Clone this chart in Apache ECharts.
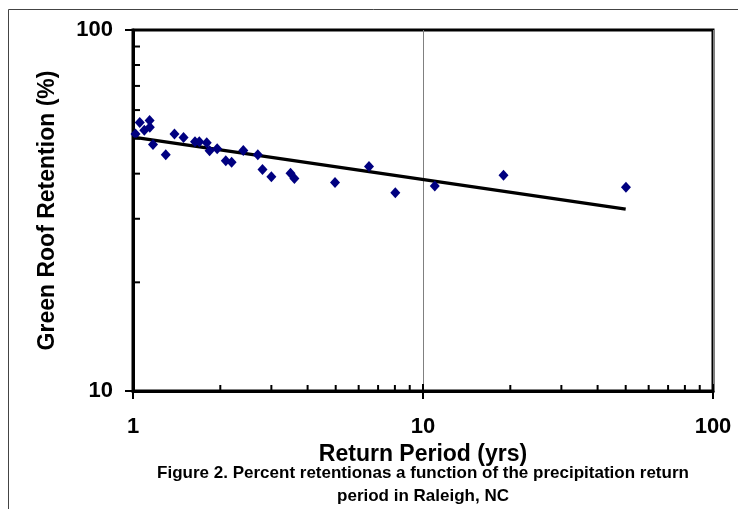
<!DOCTYPE html>
<html>
<head>
<meta charset="utf-8">
<script src="https://cdn.jsdelivr.net/npm/echarts@6/dist/echarts.min.js"></script>
<style>html,body{margin:0;padding:0;background:#fff;}#c{width:738px;height:509px;}</style>
</head>
<body>
<div id="c"></div>
<script>
// Data
const returnPeriod = [1.02, 1.055, 1.094, 1.141, 1.143, 1.172, 1.297, 1.39, 1.494, 1.636, 1.693, 1.796, 1.837, 1.951, 2.089, 2.188, 2.401, 2.694, 2.796, 3.0, 3.493, 3.602, 4.973, 6.513, 8.026, 10.98, 18.95, 50.1];
const retention    = [51.5, 55.4, 52.8, 56.1, 53.8, 48.2, 45.1, 51.5, 50.4, 49.0, 49.0, 48.7, 46.3, 46.9, 43.4, 43.0, 46.4, 45.1, 41.1, 39.2, 40.1, 38.8, 37.8, 41.9, 35.4, 37.0, 39.6, 36.7];
const trendX = [1, 50];
const trendY = [50.5, 31.9];
const xMajorTicks = [1, 10, 100];
const xMinorTicks = [2, 3, 4, 5, 6, 7, 8, 9, 20, 30, 40, 50, 60, 70, 80, 90];
const yMajorTicks = [10, 100];
const yMinorTicks = [20, 30, 40, 50, 60, 70, 80, 90];
const xTitle = 'Return Period (yrs)';
const yTitle = 'Green Roof Retention (%)';
const caption = ['Figure 2. Percent retentionas a function of the precipitation return', 'period in Raleigh, NC'];

const FONT = '"Liberation Sans", Arial, sans-serif';
const chart = echarts.init(document.getElementById('c'), null, {renderer: 'canvas'});

const scatterData = returnPeriod.map((x, i) => [x, retention[i]]);
const trendData = trendX.map((x, i) => [x, trendY[i]]);

// tick marks: [xValue, yValue, isYAxis, isMajor]
const tickData = [];
xMajorTicks.forEach(v => tickData.push([v, 10, 0, 1]));
xMinorTicks.forEach(v => tickData.push([v, 10, 0, 0]));
yMajorTicks.forEach(v => tickData.push([1, v, 1, 1]));
yMinorTicks.forEach(v => tickData.push([1, v, 1, 0]));

function renderTick(params, api) {
  const isY = api.value(2) === 1;
  const major = api.value(3) === 1;
  const p = api.coord([api.value(0), api.value(1)]);
  let x1, y1, x2, y2;
  if (!isY) {
    const base = api.coord([1, 10])[1];
    x1 = x2 = p[0];
    if (major) { y1 = base - 7; y2 = base + 8; } else { y1 = base - 6; y2 = base; }
  } else {
    const base = api.coord([1, 10])[0];
    y1 = y2 = p[1];
    if (major) { x1 = base - 8; x2 = base + 7; } else { x1 = base; x2 = base + 7; }
  }
  return {type: 'line', shape: {x1, y1, x2, y2}, style: {stroke: '#000', lineWidth: 2}};
}

chart.setOption({
  backgroundColor: '#fff',
  animation: false,
  grid: {left: 133, right: 25, top: 30, bottom: 118, show: true, borderColor: '#000', borderWidth: 3, backgroundColor: 'transparent'},
  xAxis: {
    type: 'log', logBase: 10, min: 1, max: 100,
    name: xTitle, nameLocation: 'middle', nameGap: 40,
    nameTextStyle: {fontFamily: FONT, fontWeight: 'bold', fontSize: 23, color: '#000'},
    axisLine: {show: true, lineStyle: {color: '#000', width: 3}},
    axisTick: {show: false},
    minorTick: {show: false},
    axisLabel: {fontFamily: FONT, fontWeight: 'bold', fontSize: 22, color: '#000', margin: 25},
    splitLine: {show: true, lineStyle: {color: '#808080', width: 1}},
    minorSplitLine: {show: false}
  },
  yAxis: {
    type: 'log', logBase: 10, min: 10, max: 100,
    name: yTitle, nameLocation: 'middle', nameGap: 74, nameRotate: 90,
    nameTextStyle: {fontFamily: FONT, fontWeight: 'bold', fontSize: 23, color: '#000'},
    axisLine: {show: true, lineStyle: {color: '#000', width: 3}},
    axisTick: {show: false},
    minorTick: {show: false},
    axisLabel: {fontFamily: FONT, fontWeight: 'bold', fontSize: 22, color: '#000', margin: 20},
    splitLine: {show: false}
  },
  graphic: [
    {type: 'rect', silent: true, shape: {x: 8.5, y: 9.5, width: 800, height: 600}, style: {fill: 'none', stroke: '#444', lineWidth: 1}, z: -1},
    {type: 'text', x: 423, y: 473, style: {text: caption[0], fontFamily: FONT, fontWeight: 'bold', fontSize: 17, fill: '#000', align: 'center', verticalAlign: 'middle'}},
    {type: 'text', x: 423, y: 496, style: {text: caption[1], fontFamily: FONT, fontWeight: 'bold', fontSize: 17, fill: '#000', align: 'center', verticalAlign: 'middle'}}
  ],
  series: [
    {
      type: 'line', data: trendData, showSymbol: false, symbol: 'none',
      lineStyle: {color: '#000', width: 3.5}, z: 3, silent: true
    },
    {
      type: 'scatter', data: scatterData, symbol: 'diamond', symbolSize: [10, 11],
      itemStyle: {color: '#000080', opacity: 1}, z: 4, silent: true
    },
    {
      type: 'custom', data: tickData, renderItem: renderTick, clip: false, z: 5, silent: true,
      encode: {x: 0, y: 1}
    }
  ]
});
</script>
</body>
</html>
